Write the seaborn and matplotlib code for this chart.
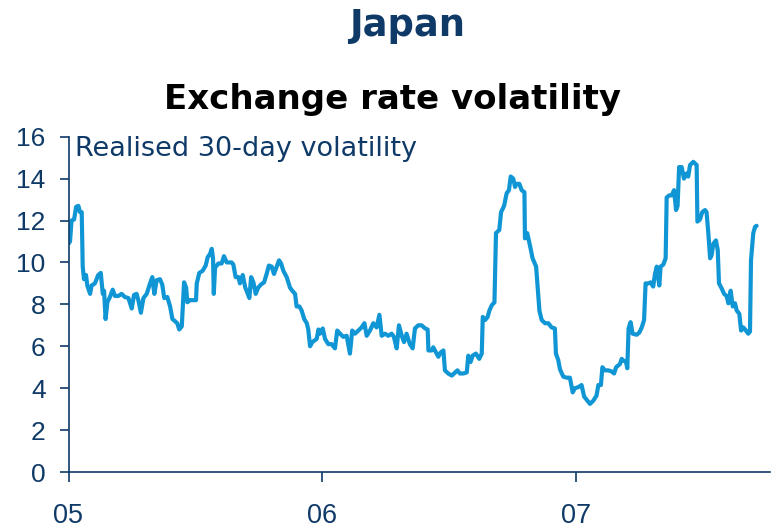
import numpy as np
import pandas as pd
import matplotlib
matplotlib.use("Agg")
import matplotlib.pyplot as plt
import seaborn as sns

# ---- data ----
base_year = 2005
years_elapsed = [
    0.000, 0.006, 0.012, 0.022, 0.030, 0.039, 0.045, 0.052, 0.056, 0.061, 0.069, 0.074, 0.085, 0.091,
    0.104, 0.117, 0.127, 0.135, 0.140, 0.146, 0.153, 0.163, 0.174, 0.183, 0.196, 0.209, 0.222, 0.236,
    0.249, 0.258, 0.268, 0.275, 0.285, 0.295, 0.308, 0.321, 0.330, 0.338, 0.347, 0.360, 0.369, 0.377,
    0.389, 0.400, 0.409, 0.419, 0.428, 0.436, 0.446, 0.455, 0.463, 0.468, 0.478, 0.491, 0.502, 0.505,
    0.515, 0.528, 0.540, 0.548, 0.557, 0.564, 0.569, 0.572, 0.577, 0.590, 0.603, 0.612, 0.623, 0.633,
    0.642, 0.649, 0.658, 0.669, 0.675, 0.686, 0.696, 0.701, 0.712, 0.719, 0.728, 0.737, 0.747, 0.758,
    0.770, 0.780, 0.789, 0.800, 0.809, 0.820, 0.829, 0.837, 0.846, 0.859, 0.872, 0.881, 0.892, 0.898,
    0.909, 0.918, 0.928, 0.938, 0.944, 0.951, 0.960, 0.977, 0.984,
    0.990, 1.001, 1.010, 1.023, 1.036, 1.049, 1.058, 1.069, 1.082, 1.095, 1.108, 1.117, 1.128, 1.141,
    1.154, 1.165, 1.174, 1.187, 1.200, 1.213, 1.224, 1.233, 1.246, 1.259, 1.272, 1.281, 1.292, 1.301,
    1.312, 1.321, 1.331, 1.344, 1.355, 1.364, 1.377, 1.390, 1.404, 1.414, 1.417, 1.430, 1.436, 1.447,
    1.456, 1.465, 1.476, 1.482, 1.495, 1.509, 1.522, 1.531, 1.541, 1.554, 1.568, 1.574, 1.583, 1.591,
    1.604, 1.617, 1.627, 1.631, 1.640, 1.650, 1.657, 1.666, 1.677, 1.683, 1.696, 1.703, 1.715, 1.725,
    1.734, 1.741, 1.751, 1.758, 1.764, 1.775, 1.784, 1.795, 1.797, 1.806, 1.817, 1.827, 1.841, 1.846,
    1.854, 1.863, 1.876, 1.889, 1.902, 1.915, 1.919, 1.928,
    1.935, 1.948, 1.961, 1.974, 1.985, 1.994, 2.007, 2.020, 2.030, 2.040, 2.053, 2.066, 2.079, 2.086,
    2.096, 2.102, 2.112, 2.125, 2.138, 2.148, 2.156, 2.171, 2.178, 2.184, 2.194, 2.200, 2.205, 2.213,
    2.221, 2.237, 2.247, 2.257, 2.266, 2.272, 2.283, 2.292, 2.302, 2.309, 2.316, 2.326, 2.331, 2.342,
    2.351, 2.355, 2.365, 2.375, 2.384, 2.392, 2.398, 2.404, 2.414, 2.423, 2.434, 2.440, 2.447, 2.460,
    2.473, 2.476, 2.486, 2.495, 2.506, 2.512, 2.519, 2.526, 2.532, 2.539, 2.549, 2.556, 2.561, 2.572,
    2.581, 2.591, 2.598, 2.607, 2.615, 2.624, 2.631, 2.641, 2.648, 2.657, 2.667, 2.676, 2.683, 2.687,
    2.696, 2.703, 2.709,
]
volatility = [
    10.9, 11.0, 12.0, 12.05, 12.65, 12.7, 12.4, 12.4, 9.8, 9.2, 9.4, 8.9, 8.5, 8.9,
    9.0, 9.4, 9.5, 8.5, 8.65, 7.3, 8.1, 8.35, 8.7, 8.4, 8.4, 8.5, 8.35, 8.3,
    7.8, 8.45, 8.5, 8.2, 7.6, 8.3, 8.5, 9.0, 9.3, 8.5, 9.15, 9.2, 8.95, 8.3,
    8.35, 7.9, 7.3, 7.2, 7.1, 6.8, 6.95, 9.05, 8.8, 8.1, 8.2, 8.2, 8.2, 9.0,
    9.5, 9.6, 9.85, 10.25, 10.4, 10.65, 10.2, 8.5, 9.75, 9.95, 9.95, 10.3, 10.0, 10.0,
    10.0, 9.9, 9.3, 9.3, 9.0, 9.4, 8.8, 8.65, 8.3, 9.3, 9.05, 8.5, 8.8, 8.95,
    9.05, 9.45, 9.85, 9.8, 9.45, 9.8, 10.1, 9.95, 9.6, 9.3, 8.8, 8.65, 8.5, 7.9,
    7.9, 7.7, 7.3, 7.1, 6.8, 6.0, 6.2, 6.35, 6.8,
    6.6, 6.85, 6.35, 6.1, 6.1, 5.9, 6.75, 6.6, 6.45, 6.5, 5.65, 6.75, 6.6, 6.75,
    6.9, 7.1, 6.5, 6.75, 7.1, 6.9, 7.5, 6.5, 6.6, 6.5, 6.6, 6.45, 5.9, 7.0,
    6.5, 6.2, 6.6, 6.1, 5.9, 6.85, 7.0, 7.0, 6.85, 6.8, 5.8, 5.8, 5.95, 5.7,
    5.5, 5.7, 5.8, 4.85, 4.7, 4.6, 4.75, 4.85, 4.7, 4.7, 4.75, 5.55, 5.25, 5.55,
    5.65, 5.4, 5.65, 7.4, 7.25, 7.4, 7.7, 7.95, 8.1, 11.4, 11.55, 12.4, 12.7, 13.3,
    13.45, 14.1, 14.0, 13.6, 13.75, 13.75, 13.45, 13.35, 11.15, 11.4, 10.8, 10.2, 9.8, 9.0,
    7.7, 7.25, 7.1, 7.1, 6.9, 6.85, 5.65, 5.35,
    4.9, 4.55, 4.5, 4.5, 3.8, 4.0, 4.05, 4.15, 3.6, 3.45, 3.25, 3.4, 3.65, 4.15,
    4.15, 5.0, 4.85, 4.85, 4.8, 4.7, 5.0, 5.15, 5.4, 5.3, 5.3, 4.95, 6.85, 7.15,
    6.6, 6.55, 6.65, 6.9, 7.25, 9.0, 9.0, 9.05, 8.85, 9.45, 9.8, 8.9, 9.8, 9.9,
    10.2, 13.1, 13.2, 13.2, 13.45, 12.5, 12.7, 14.55, 14.55, 14.0, 14.25, 14.1, 14.65, 14.8,
    14.65, 11.95, 12.05, 12.4, 12.5, 12.4, 11.4, 10.2, 10.35, 10.9, 11.05, 10.6, 9.0, 8.75,
    8.5, 8.4, 8.05, 8.65, 7.9, 8.05, 7.7, 7.55, 6.75, 6.9, 6.75, 6.6, 6.7, 10.1,
    11.4, 11.7, 11.75,
]
x_tick_years = [2005, 2006, 2007]
x_tick_labels = ["05", "06", "07"]
y_ticks = [0, 2, 4, 6, 8, 10, 12, 14, 16]

title_text = "Japan"
subtitle_text = "Exchange rate volatility"
note_text = "Realised 30-day volatility"

# ---- styling ----
NAVY = "#0f3a68"
LINE = "#1096d4"

sns.set_theme(style="ticks")
plt.rcParams["font.family"] = ["Liberation Sans", "DejaVu Sans"]

df = pd.DataFrame({"year": base_year + np.array(years_elapsed), "vol": volatility})

fig = plt.figure(figsize=(7.76, 5.32), dpi=100)
ax = fig.add_axes([68.5 / 776, 1 - 472 / 532, (770 - 68.5) / 776, (472 - 136.7) / 532])

sns.lineplot(data=df, x="year", y="vol", ax=ax, color=LINE, linewidth=3.0,
             estimator=None, sort=False, solid_joinstyle="round", solid_capstyle="round")

ax.set_xlim(2005, 2005 + (770 - 68.5) / 254)
ax.set_ylim(0, 16)
ax.set_xticks(x_tick_years)
ax.set_xticklabels(x_tick_labels)
ax.set_yticks(y_ticks)
ax.set_yticklabels([str(v) for v in y_ticks])
ax.set_xlabel("")
ax.set_ylabel("")

for side in ["top", "right"]:
    ax.spines[side].set_visible(False)
for side in ["left", "bottom"]:
    ax.spines[side].set_color(NAVY)
    ax.spines[side].set_linewidth(1.2)

ax.tick_params(axis="y", direction="out", length=6.5, width=1.2, color=NAVY,
               labelcolor=NAVY, labelsize=19, pad=10)
ax.tick_params(axis="x", direction="out", length=7, width=1.2, color=NAVY,
               labelcolor=NAVY, labelsize=19.5, pad=15.5)
ax.grid(False)

fig.text(407 / 776, 1 - 36 / 532, title_text, ha="center", va="baseline",
         fontsize=26.5, fontweight="bold", color=NAVY, family="DejaVu Sans")
fig.text(393 / 776, 1 - 109 / 532, subtitle_text, ha="center", va="baseline",
         fontsize=24.5, fontweight="bold", color="black", family="DejaVu Sans")
fig.text(75 / 776, 1 - 156 / 532, note_text, ha="left", va="baseline",
         fontsize=19.5, color=NAVY, family="DejaVu Sans")

fig.savefig("out.png", dpi=100)
